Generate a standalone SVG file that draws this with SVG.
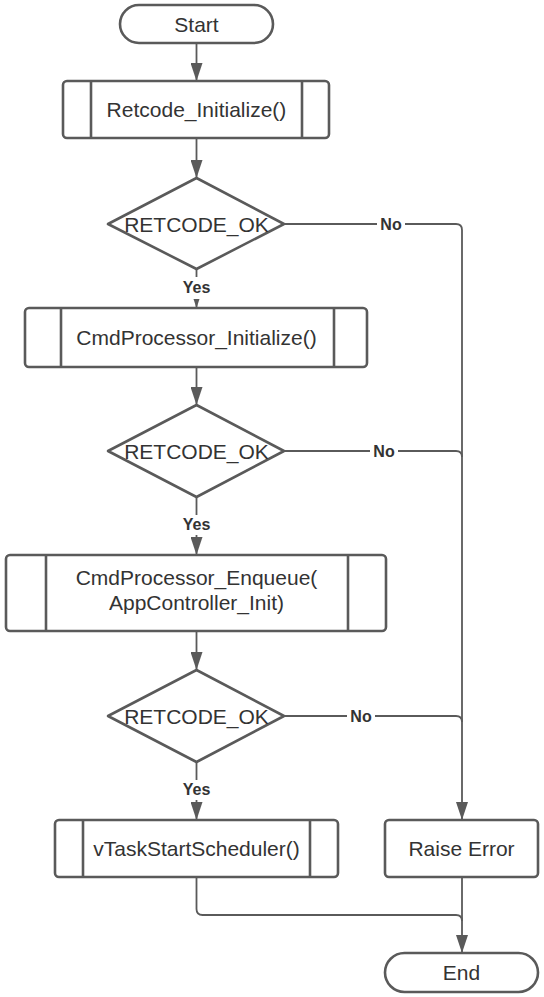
<svg xmlns="http://www.w3.org/2000/svg" width="544" height="997" viewBox="0 0 544 997">
<style>
.shape{fill:#fff;stroke:#5a5a5a;stroke-width:2.6;stroke-linejoin:round}
.inner{stroke:#5a5a5a;stroke-width:2.6}
.lbl{font-family:"Liberation Sans",Arial,sans-serif;font-size:21px;fill:#333;text-anchor:middle}
.yn{font-family:"Liberation Sans",Arial,sans-serif;font-size:16px;font-weight:bold;fill:#333;text-anchor:middle}
.con{fill:none;stroke:#5a5a5a;stroke-width:1.8}
.bg{fill:#fff}
</style>
<defs>
<marker id="ah" viewBox="0 0 18 12" markerWidth="18" markerHeight="12" refX="18" refY="6" orient="auto" markerUnits="userSpaceOnUse">
<path d="M0,0 L18,6 L0,12 z" fill="#5a5a5a"/>
</marker>
</defs>
<rect width="544" height="997" fill="#fff"/>
<g id="connectors">
<path class="con" d="M196.5,43 V81" marker-end="url(#ah)"/>
<path class="con" d="M196.5,138 V178" marker-end="url(#ah)"/>
<path class="con" d="M196.5,269 V308" marker-end="url(#ah)"/>
<path class="con" d="M284,224 H456 Q462,224 462,230 V820" marker-end="url(#ah)"/>
<path class="con" d="M196.5,367 V405" marker-end="url(#ah)"/>
<path class="con" d="M196.5,497 V555" marker-end="url(#ah)"/>
<path class="con" d="M284,451 H456 Q462,451 462,457"/>
<path class="con" d="M196.5,631 V670" marker-end="url(#ah)"/>
<path class="con" d="M196.5,762 V820" marker-end="url(#ah)"/>
<path class="con" d="M284,716 H456 Q462,716 462,722"/>
<path class="con" d="M196.5,877 V909 Q196.5,915 202.5,915 H456 Q462,915 462,921"/>
<path class="con" d="M462,877 V953" marker-end="url(#ah)"/>
<rect class="bg" x="179" y="277" width="35" height="22"/>
<text class="yn" x="196.5" y="293">Yes</text>
<rect class="bg" x="377" y="214" width="28" height="20"/>
<text class="yn" x="391" y="230">No</text>
<rect class="bg" x="179" y="515" width="35" height="20"/>
<text class="yn" x="196.5" y="530">Yes</text>
<rect class="bg" x="370" y="441" width="28" height="20"/>
<text class="yn" x="384" y="457">No</text>
<rect class="bg" x="179" y="780" width="35" height="20"/>
<text class="yn" x="196.5" y="795">Yes</text>
<rect class="bg" x="347" y="706" width="28" height="20"/>
<text class="yn" x="361" y="722">No</text>
</g>
<g id="start">
<rect class="shape" x="120" y="5" width="153" height="38" rx="19" ry="19"/>
<text class="lbl" x="196.5" y="31.5">Start</text>
</g>
<g id="retcode-init">
<rect class="shape" x="63" y="81" width="266" height="57" rx="4"/>
<line class="inner" x1="91" y1="81" x2="91" y2="138"/>
<line class="inner" x1="302" y1="81" x2="302" y2="138"/>
<text class="lbl" x="196.5" y="117">Retcode_Initialize()</text>
</g>
<g id="decision1">
<polygon class="shape" points="196.5,178 284,224 196.5,269 108,224"/>
<text class="lbl" x="196.5" y="231.5">RETCODE_OK</text>
</g>
<g id="cmd-init">
<rect class="shape" x="25" y="308" width="342" height="59" rx="4"/>
<line class="inner" x1="61" y1="308" x2="61" y2="367"/>
<line class="inner" x1="334" y1="308" x2="334" y2="367"/>
<text class="lbl" x="196.5" y="345">CmdProcessor_Initialize()</text>
</g>
<g id="decision2">
<polygon class="shape" points="196.5,405 284,451 196.5,497 108,451"/>
<text class="lbl" x="196.5" y="458.5">RETCODE_OK</text>
</g>
<g id="cmd-enqueue">
<rect class="shape" x="6" y="555" width="380" height="76" rx="4"/>
<line class="inner" x1="46" y1="555" x2="46" y2="631"/>
<line class="inner" x1="348" y1="555" x2="348" y2="631"/>
<text class="lbl" x="196.5" y="585">CmdProcessor_Enqueue(</text>
<text class="lbl" x="196.5" y="610">AppController_Init)</text>
</g>
<g id="decision3">
<polygon class="shape" points="196.5,670 284,716 196.5,762 108,716"/>
<text class="lbl" x="196.5" y="723.5">RETCODE_OK</text>
</g>
<g id="scheduler">
<rect class="shape" x="55" y="820" width="283" height="57" rx="4"/>
<line class="inner" x1="83" y1="820" x2="83" y2="877"/>
<line class="inner" x1="310" y1="820" x2="310" y2="877"/>
<text class="lbl" x="196.5" y="856">vTaskStartScheduler()</text>
</g>
<g id="raise-error">
<rect class="shape" x="385" y="820" width="153" height="57" rx="4"/>
<text class="lbl" x="461.5" y="856">Raise Error</text>
</g>
<g id="end">
<rect class="shape" x="385" y="953" width="153" height="39" rx="19.5" ry="19.5"/>
<text class="lbl" x="461.5" y="980">End</text>
</g>
</svg>
